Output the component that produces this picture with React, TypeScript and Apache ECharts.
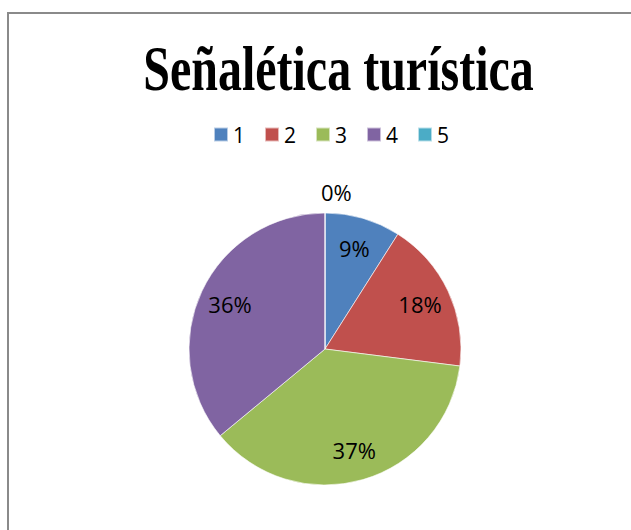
import React, { useEffect, useRef } from "react";
import * as echarts from "echarts";

const titleText = "Señalética turística";
const categories = ["1", "2", "3", "4", "5"];
const values = [9, 18, 37, 36, 0];
const colors = ["#4F81BD", "#C0504D", "#9BBB59", "#8064A2", "#4BACC6"];

export default function App() {
  const ref = useRef<HTMLDivElement>(null);
  useEffect(() => {
    if (!ref.current) return;
    const chart = echarts.init(ref.current, null, { renderer: "svg" });
    const font = "'Open Sans', 'Noto Sans', sans-serif";
    const mainData = categories.map((c, i) => ({
      name: c,
      value: values[i],
      label:
        values[i] === 0
          ? { show: true, position: "outside" as const }
          : { show: false },
    }));
    const overlayData = categories.map((c, i) => ({
      name: c,
      value: values[i],
      label: { show: values[i] !== 0 },
    }));
    chart.setOption({
      animation: false,
      backgroundColor: "#ffffff",
      color: colors,
      graphic: [
        {
          type: "rect",
          shape: { x: 8, y: 13, width: 700, height: 600 },
          style: { fill: "none", stroke: "#8a8a8a", lineWidth: 2 },
          silent: true,
        },
        {
          type: "text",
          x: 338.5,
          y: 69,
          scaleY: 1.3,
          style: {
            text: titleText,
            font: "bold 48px 'Liberation Serif', 'Times New Roman', serif",
            fill: "#000000",
            textAlign: "center",
            textVerticalAlign: "middle",
          },
        },
      ],
      legend: {
        data: categories,
        left: 208,
        top: 119,
        itemWidth: 14,
        itemHeight: 14,
        itemGap: 19,
        icon: "rect",
        textStyle: { fontSize: 21, color: "#000000", fontFamily: font },
      },
      series: [
        {
          type: "pie",
          center: [325, 349],
          radius: [0, 136],
          startAngle: 90,
          clockwise: true,
          silent: true,
          itemStyle: { borderColor: "rgba(255,255,255,0.6)", borderWidth: 1 },
          label: {
            formatter: "{d}%",
            fontSize: 22,
            color: "#000000",
            fontFamily: font,
          },
          labelLine: { show: false, length: 21, length2: 0 },
          labelLayout: (params: any) =>
            params.dataIndex === 4 ? { dx: params.labelRect.width + 1 } : {},
          data: mainData,
        },
        {
          type: "pie",
          center: [325, 349],
          radius: [0, 204],
          startAngle: 90,
          clockwise: true,
          silent: true,
          itemStyle: { color: "rgba(0,0,0,0)" },
          label: {
            position: "inside",
            formatter: "{d}%",
            fontSize: 22,
            color: "#000000",
            fontFamily: font,
          },
          labelLine: { show: false },
          data: overlayData,
        },
      ],
    });
    return () => chart.dispose();
  }, []);
  return (
    <div
      ref={ref}
      style={{ position: "fixed", left: 0, top: 0, width: 631, height: 530 }}
    />
  );
}
